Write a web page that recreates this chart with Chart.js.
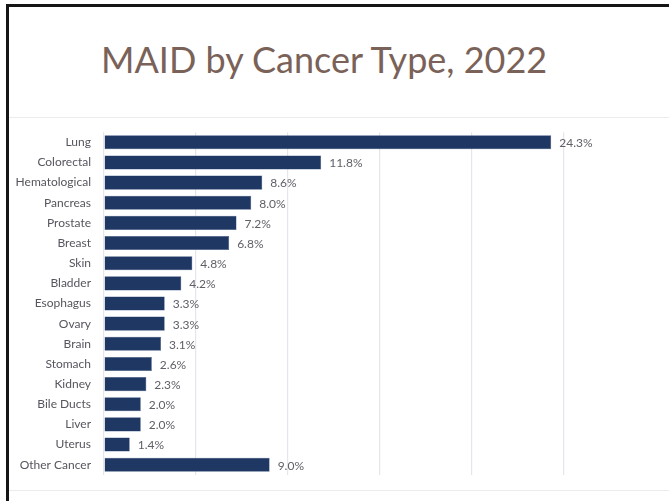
<!DOCTYPE html>
<html>
<head>
<meta charset="utf-8">
<script src="https://cdn.jsdelivr.net/npm/chart.js@4/dist/chart.umd.min.js"></script>
<style>
  html, body { margin: 0; padding: 0; background: #fff; }
  body { width: 669px; height: 501px; position: relative; overflow: hidden; }
  #frame {
    position: absolute; left: 6px; top: 4px; right: -10px; bottom: -10px;
    border-left: 3px solid #151515; border-top: 3px solid #151515;
  }
  #title {
    position: absolute; left: 101px; top: 37px;
    font-family: Lato, sans-serif; font-size: 36px; color: #7a6258;
    white-space: nowrap;
  }
  .rule { position: absolute; left: 9px; right: 0; height: 1px; background: #ececef; }
  #wrap { position: absolute; left: 0; top: 112px; width: 669px; height: 383px; }
</style>
</head>
<body>
<div id="frame"></div>
<div id="title">MAID by Cancer Type, 2022</div>
<div class="rule" style="top:117px"></div>
<div class="rule" style="top:490px"></div>
<div id="wrap"><canvas id="cancerChart"></canvas></div>
<script>
const cancerTypes = [
  "Lung", "Colorectal", "Hematological", "Pancreas", "Prostate", "Breast",
  "Skin", "Bladder", "Esophagus", "Ovary", "Brain", "Stomach", "Kidney",
  "Bile Ducts", "Liver", "Uterus", "Other Cancer"
];
const sharePct = [24.3, 11.8, 8.6, 8.0, 7.2, 6.8, 4.8, 4.2, 3.3, 3.3, 3.1, 2.6, 2.3, 2.0, 2.0, 1.4, 9.0];

// percentage labels at the end of each bar
const barValueLabels = {
  id: "barValueLabels",
  afterDatasetsDraw(chart) {
    const ctx = chart.ctx;
    const meta = chart.getDatasetMeta(0);
    ctx.save();
    ctx.font = "12px Lato, sans-serif";
    ctx.fillStyle = "#5f6067";
    ctx.textAlign = "left";
    ctx.textBaseline = "middle";
    meta.data.forEach((bar, i) => {
      ctx.fillText(sharePct[i].toFixed(1) + "%", bar.x + 8, bar.y + 1);
    });
    ctx.restore();
  },
};

new Chart(document.getElementById("cancerChart"), {
  type: "bar",
  data: {
    labels: cancerTypes,
    datasets: [
      {
        data: sharePct,
        backgroundColor: "#1f3763",
        borderColor: "#3a5282",
        borderWidth: 0.5,
        barPercentage: 0.7,
        categoryPercentage: 1,
      },
    ],
  },
  options: {
    indexAxis: "y",
    responsive: true,
    maintainAspectRatio: false,
    animation: false,
    layout: { padding: { top: 8, bottom: 10, left: 0, right: 0 } },
    plugins: { legend: { display: false }, tooltip: { enabled: false } },
    scales: {
      x: {
        min: 0,
        max: 30.7,
        ticks: { display: false, stepSize: 5 },
        grid: { color: "#e4e6ec", lineWidth: 1.2, drawTicks: false },
        border: { display: false },
        afterBuildTicks: (scale) => {
          scale.ticks = scale.ticks.filter((t) => t.value % 5 === 0);
        },
        afterFit: (scale) => { scale.height = 0; },
      },
      y: {
        ticks: {
          color: "#55565e",
          font: { family: "Lato, sans-serif", size: 12 },
          padding: 13,
        },
        grid: { display: false, drawTicks: false },
        border: { display: false },
        afterFit: (scale) => { scale.width = 104; },
      },
    },
  },
  plugins: [barValueLabels],
});
</script>
</body>
</html>
